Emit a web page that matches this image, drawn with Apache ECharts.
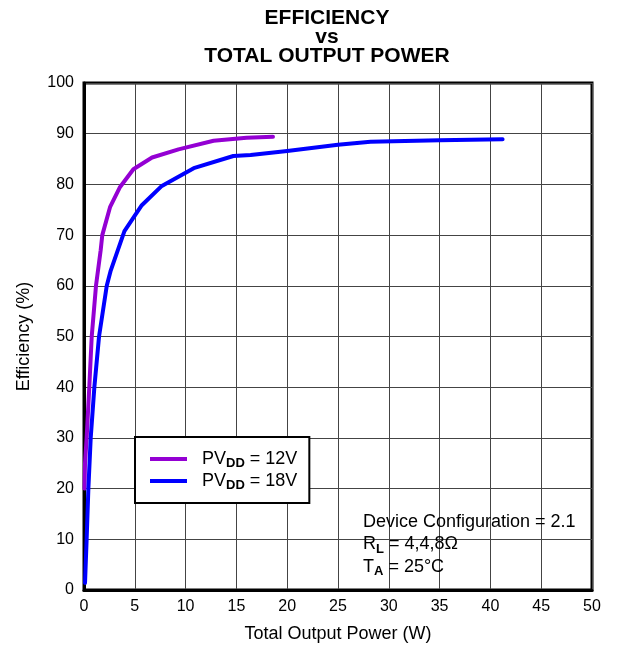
<!DOCTYPE html>
<html>
<head>
<meta charset="utf-8">
<script src="https://cdn.jsdelivr.net/npm/echarts@6/dist/echarts.min.js"></script>
<style>
  html, body { margin: 0; padding: 0; background: #fff; }
  #chart { width: 623px; height: 647px; }
</style>
</head>
<body>
<div id="chart"></div>
<script>
// 数据
const pv12Power = [0.05, 0.1, 0.26, 0.52, 0.76, 1.18, 1.64, 1.8, 2.56, 3.55, 4.86, 6.7, 9.3, 12.75, 16.0, 18.6];
const pv12Eff   = [20, 25, 30, 40, 50, 60, 67, 70, 75.5, 79.5, 83.0, 85.3, 86.9, 88.6, 89.2, 89.4];

const pv18Power = [0.1, 0.26, 0.43, 0.66, 1.02, 1.48, 2.24, 2.63, 3.98, 5.69, 7.66, 10.8, 14.7, 16.4, 20, 25, 28.2, 35, 41.2];
const pv18Eff   = [1.4, 10, 20, 30, 40, 50, 60, 63, 70.8, 75.9, 79.7, 83.2, 85.6, 85.8, 86.6, 87.8, 88.4, 88.7, 88.9];

const seriesNames = ['PV12', 'PV18'];
const legendLabels = { PV12: '12V', PV18: '18V' };
const notes = ['{n|Device Configuration = 2.1}', '{n|R}{s|L}{n| = 4,4,8Ω}', '{n|T}{s|A}{n| = 25°C}'];

const FONT = '"Liberation Sans", Arial, sans-serif';

function zip(xs, ys) {
    return xs.map((x, i) => [x, ys[i]]);
}

const myChart = echarts.init(document.getElementById('chart'));

const option = {
    backgroundColor: '#fff',
    animation: false,
    title: {
        text: 'EFFICIENCY\nvs\nTOTAL OUTPUT POWER',
        left: 322,
        top: 4,
        textAlign: 'center',
        textStyle: {
            fontFamily: FONT,
            fontSize: 21,
            fontWeight: 'bold',
            color: '#000',
            lineHeight: 19,
        },
    },
    grid: {
        left: 84,
        right: 31,
        top: 83,
        bottom: 57,
        outerBoundsMode: 'none',
        containLabel: false,
        show: true,
        borderColor: '#000',
        borderWidth: 3,
    },
    legend: {
        orient: 'vertical',
        left: 135,
        top: 437,
        padding: [11, 12, 11, 15],
        itemGap: 0,
        itemWidth: 37,
        itemHeight: 4,
        borderColor: '#000',
        borderWidth: 2,
        backgroundColor: '#fff',
        icon: 'rect',
        data: seriesNames,
        formatter: (name) => '{sp|}{n|PV}{s|DD}{n| = ' + legendLabels[name] + '}',
        textStyle: {
            lineHeight: 22,
            rich: {
                sp: { width: 10 },
                n: { fontFamily: FONT, fontSize: 18, color: '#000', lineHeight: 22 },
                s: { fontFamily: FONT, fontSize: 13, fontWeight: 'bold', color: '#000', lineHeight: 10, verticalAlign: 'bottom' },
            },
        },
    },
    xAxis: {
        type: 'value',
        min: 0,
        max: 50,
        interval: 5,
        name: 'Total Output Power (W)',
        nameLocation: 'middle',
        nameGap: 35,
        nameTextStyle: { fontFamily: FONT, fontSize: 18, color: '#000' },
        axisLine: { show: true, lineStyle: { color: '#000', width: 3 } },
        axisTick: { show: false },
        axisLabel: { fontFamily: FONT, fontSize: 16, color: '#000', margin: 9 },
        splitLine: { show: true, lineStyle: { color: '#444', width: 1 } },
    },
    yAxis: {
        type: 'value',
        min: 0,
        max: 100,
        interval: 10,
        name: 'Efficiency (%)',
        nameLocation: 'middle',
        nameGap: 51,
        nameRotate: 90,
        nameTextStyle: { fontFamily: FONT, fontSize: 18, color: '#000' },
        axisLine: { show: true, lineStyle: { color: '#000', width: 3 } },
        axisTick: { show: false },
        axisLabel: { fontFamily: FONT, fontSize: 16, color: '#000', margin: 10 },
        splitLine: { show: true, lineStyle: { color: '#444', width: 1 } },
    },
    series: [
        {
            name: 'PV12',
            type: 'line',
            data: zip(pv12Power, pv12Eff),
            showSymbol: false,
            color: '#9400D3',
            lineStyle: { color: '#9400D3', width: 4, cap: 'round', join: 'round' },
            z: 3,
        },
        {
            name: 'PV18',
            type: 'line',
            data: zip(pv18Power, pv18Eff),
            showSymbol: false,
            color: '#0000FF',
            lineStyle: { color: '#0000FF', width: 4, cap: 'round', join: 'round' },
            z: 3,
        },
    ],
    graphic: [
        {
            type: 'text',
            left: 363,
            top: 513,
            z: 10,
            style: {
                text: notes.join('\n'),
                rich: {
                    n: { fontFamily: FONT, fontSize: 18, fill: '#000', lineHeight: 22.5 },
                    s: { fontFamily: FONT, fontSize: 13, fontWeight: 'bold', fill: '#000', lineHeight: 11, verticalAlign: 'bottom' },
                },
            },
        },
    ],
};

myChart.setOption(option);
</script>
</body>
</html>
